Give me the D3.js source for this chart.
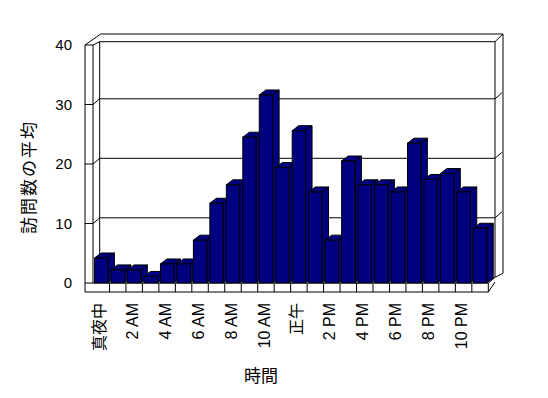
<!DOCTYPE html>
<html><head><meta charset="utf-8">
<script src="https://cdn.jsdelivr.net/npm/d3@7"></script>
<style>body{margin:0;background:#fff}svg{display:block}</style>
</head><body>
<svg id="c" width="548" height="398"></svg>
<script>
const hours = ["0","1","2","3","4","5","6","7","8","9","10","11","12","13","14","15","16","17","18","19","20","21","22","23"];
const tickLabels = ["真夜中","","2 AM","","4 AM","","6 AM","","8 AM","","10 AM","","正午","","2 PM","","4 PM","","6 PM","","8 PM","","10 PM",""];
const visits = [4.2,2.2,2.2,1.1,3.2,3.2,7.2,13.4,16.5,24.5,31.6,19.4,25.6,15.3,7.2,20.5,16.5,16.5,15.3,23.5,17.4,18.4,15.3,9.2];
const yTicks = [0,10,20,30,40];
const yTitle = "訪問数の平均";
const xTitle = "時間";

const svg = d3.select("#c");
const font = "'Liberation Sans','Noto Sans CJK JP',sans-serif";
const X0 = 93, X1 = 488.3, WL = 85, FB = 292;
const DX = 6.7, DY = -5.7;      // back wall depth
const BDX = 6.5, BDY = -5;      // bar depth
const y = d3.scaleLinear().domain([0,40]).range([283,45]);
const x = d3.scaleBand().domain(hours).range([X0,X1]).paddingInner(0.19).paddingOuter(0.095);
const step = x.step();
const g = svg.append("g").attr("fill","none").attr("stroke","#000").attr("stroke-width",1);

// back wall face + thickness
g.append("path").attr("d",`M${X0+DX},${y(40)+DY+2.4}H${X1+DX}V${y(0)+DY}`);
g.append("path").attr("d",`M${X0+DX+1},${y(40)+DY-5.3}H${X1+DX+8}V${y(0)+DY-4}L${X1+DX},${y(0)+DY}`);
g.append("path").attr("d",`M${X1+DX},${y(40)+DY+2.4}L${X1+DX+8},${y(40)+DY-5.3}`);
// left wall
g.append("path").attr("d",`M${WL},${FB}V${y(40)}H${X0}V${y(0)}`);
g.append("path").attr("d",`M${WL},${y(40)}L${X0+DX+1},${y(40)+DY-5.3}`);
g.append("path").attr("d",`M${X0},${y(40)}L${X0+DX},${y(40)+DY+2.4}V${y(0)+DY}`);
// gridlines and ticks
yTicks.filter(v=>v>0 && v<40).forEach(v=>{
  g.append("path").attr("d",`M${WL},${y(v)}H${X0}L${X0+DX},${y(v)+DY}H${X1+DX}L${X1+DX+7},${y(v)+DY-6}`);
});
g.append("path").attr("d",`M${WL},${y(0)}H${X0}`);
// floor
g.append("path").attr("d",`M${WL},${FB}H${X1}L${X1+DX},${FB-10}M${X0},${y(0)}H${X1}V${FB}M${X1},${y(0)}L${X1+DX},${y(0)+DY}`);
hours.forEach((h,i)=>{ if(i>0){ const bx = X0+i*step; g.append("line").attr("x1",bx).attr("x2",bx).attr("y1",y(0)).attr("y2",FB);} });

// bars
const bars = svg.append("g").attr("stroke","#000").attr("stroke-width",1).attr("fill","#000080").attr("stroke-linejoin","miter");
hours.forEach((h,i)=>{
  const bx = x(h), bw = x.bandwidth(), top = y(visits[i]), base = y(0);
  bars.append("path").attr("d",`M${bx+bw},${base}L${bx+bw+BDX},${base+BDY}V${top+BDY}L${bx+bw},${top}Z`);
  bars.append("path").attr("d",`M${bx},${top}L${bx+BDX},${top+BDY}H${bx+bw+BDX}L${bx+bw},${top}Z`);
  bars.append("rect").attr("x",bx).attr("y",top).attr("width",bw).attr("height",base-top);
});

// y tick labels
svg.append("g").selectAll("text").data(yTicks).join("text")
  .attr("x",72).attr("y",d=>y(d)).attr("dy","0.35em").attr("text-anchor","end")
  .attr("font-family",font).attr("font-size",15).text(d=>d);
// x tick labels
svg.append("g").selectAll("text").data(hours.filter((h,i)=>tickLabels[i]!=="")).join("text")
  .attr("transform",d=>`translate(${x(d)+x.bandwidth()/2-2},303) rotate(-90)`)
  .attr("text-anchor","end").attr("dy","0.35em")
  .attr("font-family",font).attr("font-size",16).text(d=>tickLabels[+d]);
// titles
svg.append("text").attr("transform","translate(29,177) rotate(-90)").attr("text-anchor","middle").attr("dy","0.35em")
  .attr("font-family",font).attr("font-size",17).attr("letter-spacing",2).text(yTitle);
svg.append("text").attr("x",261).attr("y",376).attr("text-anchor","middle").attr("dy","0.35em")
  .attr("font-family",font).attr("font-size",17).text(xTitle);
</script>
</body></html>
